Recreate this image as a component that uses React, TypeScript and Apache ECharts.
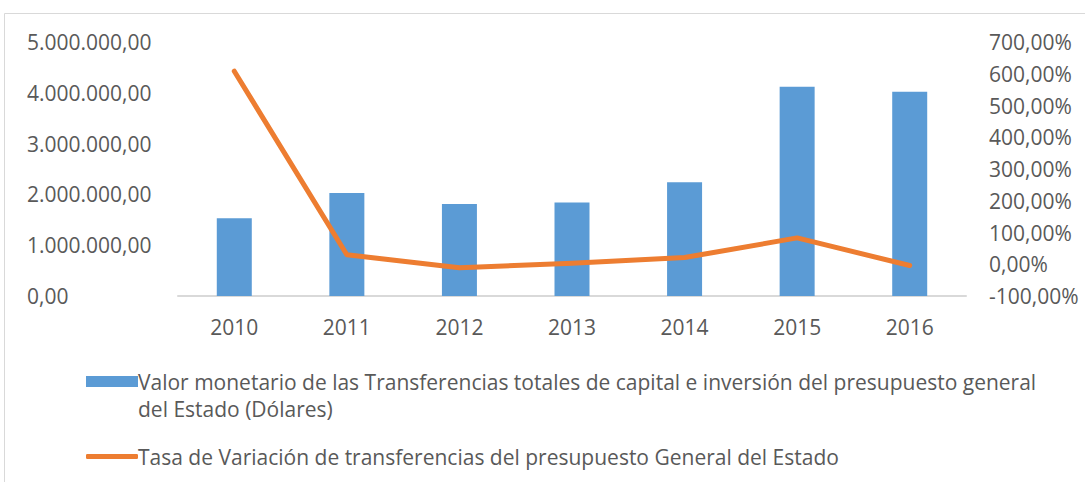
import React, { useEffect, useRef } from "react";
import * as echarts from "echarts";

const years = ["2010", "2011", "2012", "2013", "2014", "2015", "2016"];
const transferValues = [1530000, 2030000, 1810000, 1840000, 2240000, 4120000, 4020000];
const variationRates = [608, 30, -11, 3, 21, 83, -4];
const barName =
  "Valor monetario de las Transferencias totales de capital e inversión del presupuesto general del Estado (Dólares)";
const barNameLine1 = "Valor monetario de las Transferencias totales de capital e inversión del presupuesto general";
const barNameLine2 = "del Estado (Dólares)";
const lineName = "Tasa de Variación de transferencias del presupuesto General del Estado";

const FONT = "Open Sans";
const TEXT = "#595959";
const FS = 21;

function fmtMoney(v: number): string {
  const s = Math.round(v).toString().replace(/\B(?=(\d{3})+(?!\d))/g, ".");
  return s + ",00";
}
function fmtPct(v: number): string {
  return v.toFixed(2).replace(".", ",") + "%";
}

export default function App() {
  const ref = useRef<HTMLDivElement>(null);
  useEffect(() => {
    if (!ref.current) return;
    const chart = echarts.init(ref.current, null, { renderer: "svg" });
    chart.setOption({
      animation: false,
      backgroundColor: "#ffffff",
      textStyle: { fontFamily: FONT, color: TEXT },
      grid: { left: 178, right: 119, top: 42, bottom: 186, containLabel: false },
      xAxis: {
        type: "category",
        data: years,
        axisLine: { show: true, lineStyle: { color: "#D9D9D9", width: 2 } },
        axisTick: { show: false },
        axisLabel: { color: TEXT, fontSize: FS, fontFamily: FONT, margin: 20 },
      },
      yAxis: [
        {
          type: "value",
          min: 0,
          max: 5000000,
          interval: 1000000,
          position: "left",
          splitLine: { show: false },
          axisLine: { show: false },
          axisTick: { show: false },
          axisLabel: {
            color: TEXT,
            fontSize: FS,
            fontFamily: FONT,
            align: "left",
            margin: 151,
            formatter: (v: number) => fmtMoney(v),
          },
        },
        {
          type: "value",
          min: -100,
          max: 700,
          interval: 100,
          position: "right",
          splitLine: { show: false },
          axisLine: { show: false },
          axisTick: { show: false },
          axisLabel: {
            color: TEXT,
            fontSize: FS,
            fontFamily: FONT,
            align: "left",
            margin: 23,
            formatter: (v: number) => fmtPct(v),
          },
        },
      ],
      legend: [
        {
          data: [{ name: barName, icon: "rect" }],
          left: 81,
          top: 366,
          itemWidth: 52,
          itemHeight: 11,
          formatter: () => barNameLine1,
          textStyle: { color: TEXT, fontSize: FS, fontFamily: FONT, padding: [0, 0, 0, -5] },
        },
        {
          data: [{ name: lineName, icon: "roundRect" }],
          left: 81,
          top: 441,
          itemWidth: 52,
          itemHeight: 5,
          formatter: () => lineName,
          textStyle: { color: TEXT, fontSize: FS, fontFamily: FONT, padding: [0, 0, 0, -5] },
        },
      ],
      graphic: [
        {
          type: "rect",
          shape: { x: 4.5, y: 13.5, width: 2000, height: 2000 },
          style: { fill: "none", stroke: "#D9D9D9", lineWidth: 1 },
          silent: true,
        },
        {
          type: "text",
          left: 138,
          top: 398,
          style: { text: barNameLine2, fill: TEXT, fontSize: FS, fontFamily: FONT },
        },
      ],
      series: [
        {
          name: barName,
          type: "bar",
          yAxisIndex: 0,
          data: transferValues,
          barWidth: 35,
          itemStyle: { color: "#5B9BD5" },
        },
        {
          name: lineName,
          type: "line",
          yAxisIndex: 1,
          data: variationRates,
          symbol: "none",
          lineStyle: { color: "#ED7D31", width: 5, cap: "round", join: "round" },
          itemStyle: { color: "#ED7D31" },
        },
      ],
    });
    return () => chart.dispose();
  }, []);
  return (
    <div
      ref={ref}
      style={{ position: "fixed", left: 0, top: 0, width: 1085, height: 482 }}
    />
  );
}
